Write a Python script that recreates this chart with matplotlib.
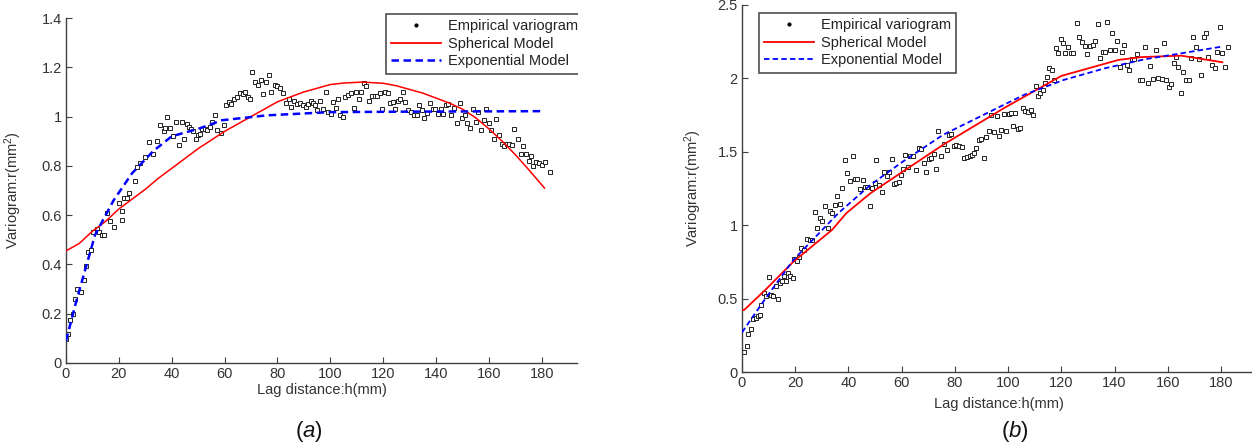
import matplotlib
matplotlib.use("Agg")
import matplotlib.pyplot as plt
from matplotlib.lines import Line2D
from matplotlib.patches import Rectangle

plt.rcParams['font.family'] = ['Liberation Sans', 'DejaVu Sans']
plt.rcParams['mathtext.fontset'] = 'custom'
plt.rcParams['mathtext.rm'] = 'Liberation Sans'
plt.rcParams['mathtext.it'] = 'Liberation Sans:italic'

# ---------------- data: panel (a) ----------------
a_emp_x = [0, 0.7, 1.7, 2.7, 3.5, 4.3, 5.6, 6.8, 7.7, 8.5, 9.4, 10.4, 11.6, 12.6, 13.5, 14.3,
           15.5, 16.6, 18.1, 20, 21, 21.3, 22, 23.2, 24, 26, 27, 28, 30, 31.4, 33, 34.3, 35.7,
           37, 37.6, 38.3, 39.4, 40.4, 41.5, 42.6, 43.7, 44.7, 45.6, 46.4, 47.3, 48.2, 49, 50,
           50.8, 51.6, 52.7, 53.5, 54.5, 55.4, 56.3, 57.2, 58.6, 59.6, 60.6, 61.5, 62.4, 63.5,
           64.7, 65.8, 66.9, 67.9, 68.7, 69.7, 70.5, 71.6, 72.8, 73.8, 74.5, 75.5, 76.7, 77.7,
           78.9, 79.9, 80.9, 82, 83.2, 84.2, 85.2, 86.4, 87.5, 88.6, 89.6, 90.7, 91.6, 92.5,
           93.3, 94.2, 95.1, 96.2, 97.2, 98.3, 99.1, 100.1, 100.9, 102, 103, 103.7, 104.8,
           105.6, 106.6, 107.7, 108.8, 109.8, 110.7, 111.7, 112.7, 113.6, 114.7, 115.8, 116.8,
           117.8, 118.7, 119.7, 120.5, 121.7, 122.6, 123.6, 124.4, 125.5, 126.5, 127.5, 128.4,
           129.5, 130.5, 131.5, 132.7, 133.7, 134.7, 135.6, 136.7, 137.8, 138.8, 139.6, 140.6,
           141.7, 142.5, 143.6, 144.6, 145.7, 146.9, 147.9, 148.9, 149.8, 150.8, 151.8, 153,
           154.1, 155.1, 155.8, 157, 158, 159, 160.2, 160.9, 161.9, 162.8, 163.8, 164.8, 165.7,
           166.7, 167.7, 168.9, 169.6, 171, 172, 173, 174, 175, 175.8, 176.8, 177.8, 179, 180,
           181.2, 182.9]
a_emp_y = [0.098, 0.117, 0.174, 0.20, 0.26, 0.30, 0.29, 0.335, 0.395, 0.45, 0.46, 0.53, 0.545,
           0.53, 0.52, 0.52, 0.61, 0.575, 0.553, 0.65, 0.58, 0.617, 0.67, 0.67, 0.69, 0.737,
           0.797, 0.81, 0.837, 0.898, 0.85, 0.90, 0.965, 0.94, 0.954, 0.998, 0.954, 0.92, 0.978,
           0.884, 0.976, 0.91, 0.97, 0.958, 0.95, 0.94, 0.91, 0.925, 0.93, 0.95, 0.95, 0.945,
           0.958, 0.978, 1.005, 0.945, 0.935, 0.965, 1.045, 1.06, 1.05, 1.07, 1.08, 1.096, 1.09,
           1.10, 1.08, 1.07, 1.18, 1.14, 1.13, 1.15, 1.09, 1.14, 1.17, 1.10, 1.13, 1.125, 1.115,
           1.096, 1.056, 1.072, 1.04, 1.065, 1.05, 1.056, 1.045, 1.04, 1.05, 1.065, 1.055, 1.045,
           1.025, 1.063, 1.03, 1.10, 1.018, 1.01, 1.06, 1.035, 1.07, 1.005, 0.999, 1.08, 1.088,
           1.096, 1.035, 1.10, 1.07, 1.10, 1.135, 1.123, 1.065, 1.085, 1.085, 1.085, 1.096, 1.032,
           1.10, 1.096, 1.056, 1.06, 1.03, 1.065, 1.07, 1.10, 1.06, 1.025, 1.018, 1.005, 1.005,
           1.045, 1.025, 0.994, 1.016, 1.056, 1.03, 1.03, 1.012, 1.032, 1.012, 1.045, 1.052,
           1.005, 1.035, 0.972, 1.056, 0.994, 1.005, 0.972, 0.954, 1.032, 0.98, 1.018, 0.945,
           0.985, 1.032, 0.972, 0.945, 0.91, 0.99, 0.927, 0.89, 0.88, 0.89, 0.887, 0.884, 0.95,
           0.91, 0.85, 0.88, 0.85, 0.82, 0.84, 0.80, 0.817, 0.81, 0.804, 0.815, 0.777]
a_sph_x = [0, 5, 10, 15, 20, 25, 30, 35, 40, 45, 50, 55, 60, 65, 70, 75, 80, 85, 90, 95, 100,
           105, 112, 120, 125, 130, 135, 140, 145, 150, 155, 160, 165, 170, 175, 181]
a_sph_y = [0.455, 0.485, 0.535, 0.575, 0.625, 0.665, 0.705, 0.75, 0.79, 0.83, 0.87, 0.905,
           0.94, 0.97, 1.0, 1.03, 1.06, 1.08, 1.10, 1.115, 1.13, 1.136, 1.14, 1.135, 1.125, 1.11,
           1.095, 1.075, 1.055, 1.03, 0.995, 0.95, 0.9, 0.845, 0.785, 0.71]
a_exp_x = [0, 4, 11, 18, 25, 33, 40, 50, 59, 76, 100, 130, 181]
a_exp_y = [0.09, 0.255, 0.52, 0.66, 0.77, 0.86, 0.92, 0.95, 0.985, 1.005, 1.018, 1.02, 1.022]

# ---------------- data: panel (b) ----------------
b_emp_x = [0, 0.9, 1.7, 2.4, 3.3, 4.3, 5.2, 6.1, 6.7, 7.3, 8.2, 9.1, 10.2, 10.8, 11.8, 12.8,
           13.4, 14.1, 14.9, 15.8, 16.4, 17.3, 17.9, 19, 19.7, 20.7, 21.3, 22.2, 23.2, 24.5,
           25.5, 26.4, 27.3, 28.3, 29.3, 30.1, 31.1, 32.2, 33.1, 34, 35.1, 35.8, 36.9, 37.7,
           38.6, 39.5, 40.4, 41.6, 42.5, 43.4, 44.5, 45.3, 46.3, 47.1, 48, 49, 49.8, 50.4, 51.3,
           52.6, 53.2, 54.4, 55.1, 56.2, 57.1, 57.9, 58.9, 59.8, 60.5, 61.4, 62.3, 63.2, 64.3,
           65.5, 66.5, 67.4, 68.4, 69.3, 70.3, 71.1, 72, 72.9, 73.8, 74.9, 76, 76.9, 77.9, 78.7,
           79.6, 80.5, 81.7, 82.6, 83.5, 84.5, 85.5, 86.3, 87.2, 88.1, 89, 89.9, 90.8, 91.7,
           92.7, 93.6, 94.6, 95.7, 96.6, 97.5, 98.4, 99.3, 100.3, 101.2, 101.8, 102.7, 103.7,
           104.5, 105.6, 106.5, 107.5, 108.5, 109.4, 110.6, 111.3, 112.1, 113, 113.9, 114.7,
           115.4, 116.4, 117.3, 117.9, 118.8, 119.7, 120.6, 121.5, 122.4, 123.5, 124.5, 125.8,
           126.7, 127.6, 128.8, 129.7, 130.6, 131.8, 132.6, 133.7, 134.6, 135.5, 136.4, 137.3,
           138.2, 139.1, 140.1, 141, 141.9, 142.8, 143.7, 144.8, 145.5, 146.4, 147.3, 148.6,
           149.5, 150.4, 151.3, 152.4, 153.4, 154.6, 155.5, 156.5, 157.7, 158.6, 159.5, 160.4,
           161.3, 162.2, 163.1, 164, 164.9, 165.9, 166.8, 167.8, 168.6, 169.5, 170.6, 171.6,
           172.6, 173.5, 174.4, 175.3, 176.7, 177.7, 178.6, 179.6, 180.5, 181.5, 182.7]
b_emp_y = [0.134, 0.134, 0.175, 0.26, 0.293, 0.36, 0.368, 0.38, 0.39, 0.458, 0.538, 0.52, 0.645,
           0.524, 0.52, 0.588, 0.497, 0.606, 0.617, 0.651, 0.617, 0.674, 0.656, 0.64, 0.77, 0.753,
           0.783, 0.844, 0.833, 0.905, 0.90, 0.896, 1.087, 0.98, 1.048, 1.026, 1.132, 0.98, 1.10,
           1.082, 1.139, 1.20, 1.146, 1.252, 1.445, 1.355, 1.298, 1.473, 1.314, 1.314, 1.246,
           1.309, 1.26, 1.26, 1.132, 1.252, 1.287, 1.445, 1.275, 1.223, 1.359, 1.332, 1.359,
           1.45, 1.282, 1.287, 1.291, 1.343, 1.382, 1.479, 1.395, 1.468, 1.473, 1.373, 1.525,
           1.518, 1.427, 1.359, 1.45, 1.457, 1.486, 1.382, 1.645, 1.468, 1.554, 1.509, 1.616,
           1.622, 1.541, 1.548, 1.541, 1.536, 1.457, 1.463, 1.473, 1.479, 1.491, 1.525, 1.581,
           1.586, 1.457, 1.60, 1.645, 1.752, 1.638, 1.745, 1.609, 1.65, 1.758, 1.645, 1.758,
           1.763, 1.677, 1.763, 1.654, 1.661, 1.797, 1.781, 1.768, 1.786, 1.752, 1.945, 1.877,
           1.90, 1.922, 1.972, 2.008, 2.069, 2.058, 1.99, 2.205, 2.176, 2.267, 2.244, 2.176,
           2.212, 2.171, 2.171, 2.376, 2.285, 2.251, 2.221, 2.167, 2.221, 2.228, 2.258, 2.371,
           2.137, 2.183, 2.183, 2.387, 2.194, 2.308, 2.194, 2.258, 2.076, 2.183, 2.228, 2.092,
           2.058, 2.131, 2.131, 2.167, 1.99, 1.99, 2.217, 1.967, 2.085, 1.994, 2.194, 2.001,
           1.994, 2.239, 1.99, 1.94, 1.963, 2.103, 2.149, 2.081, 1.899, 2.047, 1.99, 1.99, 2.137,
           2.28, 2.217, 2.131, 2.024, 2.28, 2.308, 2.149, 2.092, 2.069, 2.183, 2.349, 2.171,
           2.081, 2.217]
b_sph_x = [0, 0.9, 8.8, 19.4, 33.9, 39.2, 48.3, 60.5, 75.6, 98.4, 120, 141.5, 150, 165, 180.5]
b_sph_y = [0.42, 0.424, 0.56, 0.753, 0.969, 1.082, 1.218, 1.366, 1.548, 1.797, 2.017, 2.126,
           2.145, 2.155, 2.11]
b_exp_x = [0, 8.8, 19.4, 36.2, 48.3, 60.5, 75.6, 90.8, 106, 121, 136.4, 151.6, 166.8, 180.5]
b_exp_y = [0.27, 0.50, 0.765, 1.082, 1.275, 1.434, 1.616, 1.752, 1.888, 1.99, 2.069, 2.131,
           2.176, 2.217]

a_yticks = [0, 0.2, 0.4, 0.6, 0.8, 1.0, 1.2, 1.4]
a_yticklabels = ['0', '0.2', '0.4', '0.6', '0.8', '1', '1.2', '1.4']
b_yticks = [0, 0.5, 1.0, 1.5, 2.0, 2.5]
b_yticklabels = ['0', '0.5', '1', '1.5', '2', '2.5']
xticks = [0, 20, 40, 60, 80, 100, 120, 140, 160, 180]
legend_labels = ['Empirical variogram', 'Spherical Model', 'Exponential Model']

W, H = 1252, 446
fig = plt.figure(figsize=(W / 100, H / 100), dpi=100)
TXT = '#333333'


def px_axes(x0, x1, ytop, ybot):
    return fig.add_axes([x0 / W, (H - ybot) / H, (x1 - x0) / W, (ybot - ytop) / H])


def style(ax, xlim, ylim, yticks, yticklabels, xpad):
    ax.set_xlim(*xlim)
    ax.set_ylim(*ylim)
    ax.set_xticks(xticks)
    ax.set_xticklabels([str(t) for t in xticks])
    ax.set_yticks(yticks)
    ax.set_yticklabels(yticklabels)
    for s in ['top', 'right']:
        ax.spines[s].set_visible(False)
    for s in ['left', 'bottom']:
        ax.spines[s].set_color('#404040')
        ax.spines[s].set_linewidth(1.0)
    ax.tick_params(direction='in', length=4, width=0.8, colors='#404040',
                   labelcolor=TXT, labelsize=10.5, pad=3)
    ax.set_xlabel('Lag distance:h(mm)', fontsize=10.5, color=TXT, labelpad=xpad)
    ax.set_ylabel('Variogram:r(mm$^2$)', fontsize=10.5, color=TXT)


def handles(lw_blue):
    return [Line2D([], [], ls='none', marker='.', ms=4, color='black'),
            Line2D([], [], color='red', lw=1.3),
            Line2D([], [], color='blue', lw=lw_blue, ls=(0, (3, 1.8)))]


def add_legend(ax, x, y, lw_blue):
    leg = ax.legend(handles(lw_blue), legend_labels, loc='upper left',
                    bbox_to_anchor=(x / W, (H - y) / H), bbox_transform=fig.transFigure,
                    fontsize=10.5, frameon=True, fancybox=False, borderaxespad=0,
                    handlelength=3.4, handletextpad=0.5, labelspacing=0.25, borderpad=0.35)
    leg.get_frame().set_edgecolor('#222222')
    leg.get_frame().set_linewidth(1.2)
    for t in leg.get_texts():
        t.set_color('#222222')
    return leg


# ---------- panel (a) ----------
axa = px_axes(66, 577, 18, 363)
style(axa, (0, 193.3), (0, 1.4), a_yticks, a_yticklabels, 1)
axa.plot(a_emp_x, a_emp_y, ls='none', marker='s', ms=2.6, mfc='white', mec='#222222',
         mew=0.7, zorder=2)
axa.plot(a_sph_x, a_sph_y, color='red', lw=1.1, zorder=3)
axa.plot(a_exp_x, a_exp_y, color='blue', lw=1.8, ls=(0, (3, 1.8)), zorder=4)
axa.yaxis.set_label_coords(-0.082, 0.5)
add_legend(axa, 386, 14, 1.8)

# ---------- panel (b) ----------
axb = px_axes(742, 742 + 193 * 2.661, 5, 372)
style(axb, (0, 193), (0, 2.5), b_yticks, b_yticklabels, 5)
axb.plot(b_emp_x, b_emp_y, ls='none', marker='s', ms=2.6, mfc='white', mec='#222222',
         mew=0.7, zorder=2)
axb.plot(b_sph_x, b_sph_y, color='red', lw=1.3, zorder=3)
axb.plot(b_exp_x, b_exp_y, color='blue', lw=1.3, ls=(0, (3, 1.8)), zorder=4)
axb.yaxis.set_label_coords(-0.074, 0.5)
add_legend(axb, 759, 13, 1.3)

# mask clipping the left legend like the cropped panel
fig.patches.append(Rectangle((578 / W, (H - 90) / H), 125 / W, 90 / H,
                             transform=fig.transFigure, facecolor='white',
                             edgecolor='none', zorder=20))

fig.text(309 / W, 1 - 432 / H, '($\\mathit{a}$)', ha='center', va='center', fontsize=16,
         color='#111111')
fig.text(1015 / W, 1 - 432 / H, '($\\mathit{b}$)', ha='center', va='center', fontsize=16,
         color='#111111')

fig.savefig('out.png', dpi=100)
